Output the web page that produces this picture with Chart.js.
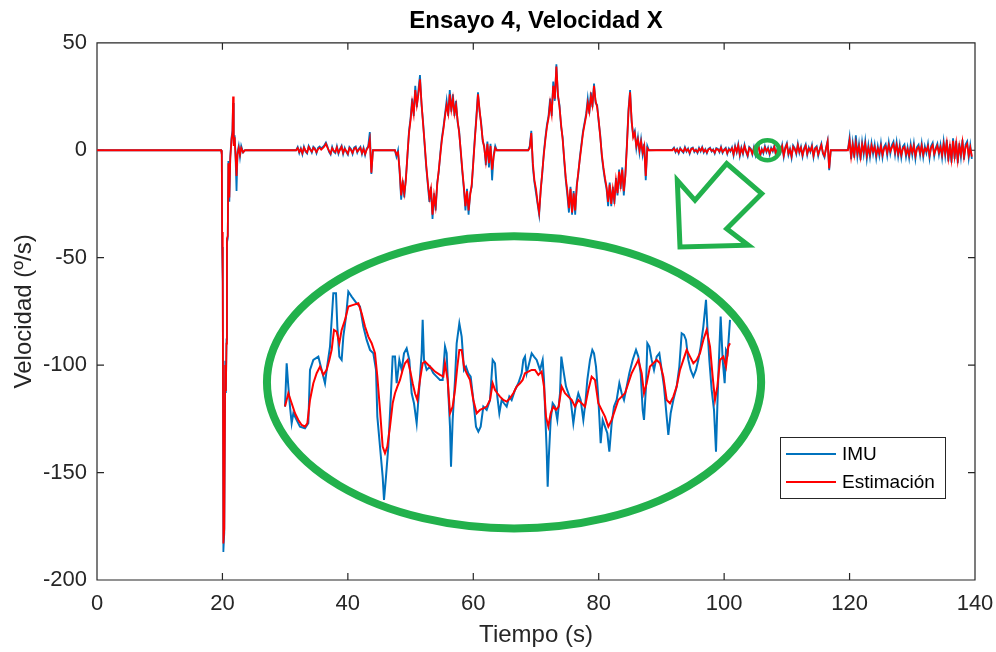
<!DOCTYPE html>
<html>
<head>
<meta charset="utf-8">
<script src="https://cdn.jsdelivr.net/npm/chart.js@4/dist/chart.umd.min.js"></script>
<style>
  html, body { margin: 0; padding: 0; background: #ffffff; }
  canvas { display: block; }
</style>
</head>
<body>
<canvas id="plot" width="996" height="652"></canvas>
<script>
// ---- Axis ticks ----
const xTicks = [0, 20, 40, 60, 80, 100, 120, 140];      // Tiempo (s)
const yTicks = [-200, -150, -100, -50, 0, 50];           // Velocidad (º/s)

// ---- Impact around t = 20 s (irregular sample times, s) ----
const spikeTime = [19.8, 19.9, 19.95, 20.05, 20.15, 20.3, 20.45, 20.55, 20.65, 20.72, 20.85, 20.95, 21.1,
                   21.25, 21.45, 21.6, 21.7, 21.8, 21.95, 22.1, 22.25, 22.4, 22.6, 22.8, 23.0, 23.3, 23.6];
const spikeImu  = [0, -2, -45, -62, -187, -178, -98, -113, -88, -43, -41, -5, -24,
                   -3, 6, 9, 22, 3, 7, -4, -19, -1, 2, -3, 2, -1, 0];
const spikeEst  = [0, -2, -38, -60, -183, -176, -100, -112, -90, -41, -40, -6, -22,
                   -4, 5, 8, 25, 2, 6, -3, -12, -2, 1, -2, 1, -1, 0];

// ---- Active segments, sampled every 0.25 s from each start time ----
const segStart = [31.75, 47.5, 68.75, 91.75, 119.5];
const segStep = 0.25;

const imuSeg1 = [0, 1.5, -1.3, 0.9, -1.9, 1.6, -0.6, -1.5, 2.0, 0.6,
  -1.1, 1.6, 0.9, -1.4, 1.1, 1.7, 0.8, 1.5, 2.3, 3.6,
  1.7, -0.8, -2.0, 1.5, -0.7, -1.3, 1.8, -1.6, 0.7, 2.1,
  -1.7, 1.1, -0.8, -2.1, 1.5, 0.6, -1.7, 1.2, 1.7, -1.1,
  0.7, 1.6, -1.8, 1.1, -2.2, 0.8, 1.9, 8.5, -11.0, 0];
const estSeg1 = [0, 1.0, -0.8, 0.5, -1.4, 1.2, -0.2, -1.0, 1.5, 0.2,
  -0.6, 1.1, 0.4, -0.9, 0.6, 1.2, 0.3, 1.0, 1.8, 3.0,
  1.2, -0.3, -1.5, 1.0, -0.2, -0.8, 1.3, -1.1, 0.2, 1.6,
  -1.2, 0.6, -0.3, -1.6, 1.0, 0.1, -1.2, 0.7, 1.2, -0.6,
  0.2, 1.1, -1.3, 0.6, -1.7, 0.3, 1.4, 5.0, -10.5, 0];

const imuSeg2 = [0, -3, 0, -10, -23, -14, -22, -13, -3, 9,
  15, 24, 16, 30, 20, 28, 35, 21, 13, 2,
  -8, -16, -24, -17, -32, -20, -28, -15, -10, -1,
  6, 11, 17, 23, 16, 28, 18, 26, 16, 23,
  13, 9, -1, -10, -18, -28, -18, -30, -20, -17,
  -5, 6, 16, 27, 18, 13, 4, 2, -7, 4,
  -8, 3, -14, -2, 2, 0];
const estSeg2 = [0, -2, -1, -9, -21, -15, -20, -14, -2, 8,
  14, 22, 17, 28, 21, 26, 33, 22, 12, 3,
  -7, -15, -22, -18, -30, -21, -26, -16, -9, -2,
  5, 10, 16, 21, 17, 26, 19, 24, 17, 21,
  14, 8, 0, -9, -17, -26, -19, -28, -21, -16,
  -6, 5, 15, 26, 19, 12, 5, 1, -5, 3,
  -6, 2, -9, -3, 1, 0];

const imuSeg3 = [0, 2, 9, -8, -15, -20, -25, -30, -18, -11,
  -1, 6, 12, 16, 24, 16, 32, 23, 40, 25,
  21, 11, 6, -5, -14, -21, -29, -17, -30, -19,
  -30, -16, -11, -3, 3, 9, 13, 17, 24, 17,
  27, 20, 31, 22, 21, 13, 7, -3, -9, -14,
  -18, -26, -15, -26, -17, -25, -13, -21, -9, -18,
  -8, -21, -11, 3, 19, 28, 13, 7, 9, 1,
  6, -1, 5, -2, 3, -14, 2, 0];
const estSeg3 = [0, 1, 8, -6, -14, -18, -24, -29, -19, -10,
  -2, 5, 11, 15, 22, 17, 30, 24, 39, 26,
  20, 12, 5, -4, -13, -19, -27, -18, -29, -20,
  -28, -17, -10, -4, 2, 8, 12, 16, 22, 18,
  25, 21, 30, 23, 20, 14, 6, -2, -8, -13,
  -17, -24, -16, -25, -18, -23, -14, -20, -10, -16,
  -9, -19, -12, 2, 18, 27, 14, 6, 8, 2,
  5, 0, 4, -1, 2, -12, 1, 0];

const imuSeg4 = [0.3, 1.2, -0.9, 0.6, -1.4, 1.0, -0.3, -1.1, 1.4, -0.6,
  0.8, -1.6, 0.9, 1.3, -0.8, 0.3, -1.3, 1.1, -0.5, 1.5,
  -1.0, 0.5, -1.4, 0.7, 1.2, -0.6, 0.4, -1.5, 1.0, 0.6,
  -0.9, 1.6, -1.2, 0.3, 1.1, -1.7, 0.8, -0.5, 1.3,
  -2.4, 2.0, -1.0, 2.8, -2.6, 1.2, -1.7, 2.5, -0.8, -2.9, 1.5, 0.7, -2.0,
  1.4, -2.3, 0.9, 2.2, -2.8, 0.6, -1.4, 1.9, -0.8, 1.2, -2.0, 1.1, -0.5, 2.1, -2.5, 0.8, 1.4, -1.0,
  2.5, -3.1, 1.4, 3.3, -2.1, 0.7, -3.5, 2.2, 1.0, -1.8,
  3.0, -1.2, 1.6, -2.9, 0.9, 2.7, -2.2, 1.3, -0.7, 2.4,
  -3.2, 1.1, 1.9, -2.6, 0.6, 3.1, -1.6, -3.3, 1.2, 4.5, -9.3, 0];
const estSeg4 = [0, 0.8, -0.5, 0.3, -1.0, 0.6, 0, -0.7, 1.0, -0.3,
  0.4, -1.2, 0.5, 0.9, -0.4, 0, -0.9, 0.7, -0.2, 1.1,
  -0.6, 0.2, -1.0, 0.4, 0.8, -0.3, 0.1, -1.1, 0.6, 0.3,
  -0.5, 1.2, -0.8, 0, 0.7, -1.3, 0.4, -0.2, 0.9,
  -1.8, 1.5, -0.6, 2.2, -2.0, 0.8, -1.2, 1.9, -0.4, -2.3, 1.0, 0.3, -1.5,
  0.9, -1.7, 0.5, 1.6, -2.1, 0.2, -0.9, 1.3, -0.4, 0.7, -1.4, 0.6, -0.2, 1.5, -1.8, 0.4, 0.9, -0.6,
  1.8, -2.4, 0.9, 2.6, -1.5, 0.3, -2.8, 1.6, 0.5, -1.2,
  2.3, -0.7, 1.1, -2.2, 0.4, 2.0, -1.6, 0.8, -0.3, 1.7,
  -2.5, 0.6, 1.3, -1.9, 0.2, 2.4, -1.1, -2.6, 0.7, 4.0, -8.5, 0];

const imuSeg5 = [0, 0.5, 6.0, -4.2, 3.4, -3.5, 7.0, -2.8, 2.9, -4.6,
  3.8, -1.9, 4.3, -3.9, 2.3, -3.1, 3.3, -1.7, 2.6, -3.6,
  1.8, -2.6, 3.2, -3.3, 1.6, 2.9, -2.4, 3.6, -1.6, 2.4,
  4.0, -2.0, 3.7, -2.8, 2.5, -3.4, 1.7, 2.7, -3.0, 1.4,
  -3.6, 2.8, -2.2, 3.1, -3.9, 1.5, 2.6, -2.4, 3.2, -3.2,
  1.8, -1.3, 2.9, -3.7, 2.0, 3.5, -2.8, 1.2, 3.1, -2.1,
  2.5, -3.4, 4.1, -2.5, 4.8, -5.2, 2.9, -5.8, 5.6, -4.0,
  4.4, -6.0, 3.2, -3.1, 5.0, -4.4, 2.7, 4.1, -3.6, 2.3, -4.0];
const estSeg5 = [0, 0, 4.5, -3.0, 2.5, -2.2, 3.4, -1.5, 1.8, -3.1,
  2.6, -0.8, 3.0, -2.5, 1.2, -1.9, 2.2, -0.6, 1.5, -2.3,
  0.9, -1.4, 2.0, -2.1, 0.7, 1.8, -1.2, 2.4, -0.5, 1.3,
  2.8, -0.9, 2.5, -1.6, 1.4, -2.2, 0.8, 1.6, -1.8, 0.5,
  -2.4, 1.7, -1.1, 2.0, -2.6, 0.6, 1.5, -1.3, 2.1, -2.0,
  0.9, -0.4, 1.8, -2.5, 1.1, 2.4, -1.7, 0.3, 2.0, -1.0,
  1.4, -2.2, 2.9, -1.4, 3.5, -3.6, 1.9, -4.2, 4.4, -2.8,
  3.2, -4.5, 2.1, -1.9, 3.8, -3.0, 1.6, 2.9, -2.4, 1.2, -3.0];

// ---- Magnified detail around t ≈ 105–109 s (time in ms from window start, velocity in º/s) ----
const zoomImuMs = [225, 240, 255, 270, 285, 300, 330, 360, 405, 435, 450, 480, 525, 555, 585, 600, 630, 660, 684, 696,
  714, 735, 750, 774, 795, 825, 870, 900, 930, 960, 990, 1020, 1044, 1056, 1080, 1104, 1116, 1134, 1155, 1176,
  1194, 1215, 1230, 1254, 1275, 1296, 1320, 1344, 1365, 1386, 1410, 1434, 1455, 1464, 1476, 1500, 1530, 1560, 1590, 1620,
  1644, 1665, 1680, 1695, 1710, 1719, 1734, 1755, 1770, 1794, 1815, 1836, 1854, 1875, 1896, 1920, 1944, 1965, 1986, 2010,
  2040, 2070, 2094, 2115, 2136, 2154, 2175, 2196, 2220, 2244, 2265, 2295, 2325, 2355, 2370, 2385, 2400, 2430, 2445, 2466,
  2490, 2520, 2544, 2556, 2568, 2580, 2589, 2598, 2616, 2634, 2655, 2676, 2700, 2712, 2730, 2754, 2775, 2796, 2820, 2844,
  2865, 2886, 2910, 2928, 2946, 2970, 2991, 3006, 3024, 3042, 3054, 3066, 3084, 3105, 3126, 3144, 3165, 3186, 3210, 3234,
  3255, 3276, 3300, 3324, 3354, 3384, 3405, 3426, 3444, 3456, 3474, 3486, 3504, 3525, 3546, 3570, 3594, 3615, 3636, 3660,
  3675, 3696, 3720, 3750, 3774, 3795, 3816, 3834, 3855, 3876, 3900, 3924, 3945, 3966, 3990, 4014, 4026, 4044, 4065, 4086,
  4104, 4116, 4128, 4146, 4164, 4182, 4194, 4209, 4230];
const zoomImu = [-0.35, 0.95, 0.25, -0.35, -0.85, -0.55, -0.75, -0.95, -1.00, -0.85, 0.75, 1.05, 1.15, 0.75, 0.35, 0.75, 1.45, 3.05, 3.05, 2.05,
  1.15, 1.05, 1.75, 2.35, 3.10, 2.95, 2.75, 2.65, 2.05, 1.65, 1.35, 1.25, 0.75, -0.65, -1.55, -2.45, -3.15, -2.45, -1.55, -0.15,
  1.15, 1.15, 0.35, 1.05, 0.75, 1.25, 1.40, 1.05, 0.05, -0.25, -0.85, 0.25, 1.25, 2.25, 1.05, 0.75, 0.85, 0.65, 0.55, 0.45,
  0.45, 1.45, 1.25, 0.05, -0.95, -2.15, -0.75, 0.45, 1.55, 2.15, 1.75, 0.75, 0.85, 0.65, 0.55, -0.15, -0.95, -1.10, -0.95, -0.35,
  -0.45, -0.15, 1.05, 0.95, -0.05, -0.55, -0.15, -0.25, -0.35, -0.05, -0.15, 0.15, 0.35, 0.65, 1.05, 1.15, 0.65, 1.05, 1.25, 1.15,
  1.05, 0.75, 1.05, 0.45, -0.65, -1.65, -2.75, -1.95, -0.75, -0.25, -0.35, -0.75, 0.05, 1.15, 0.75, 0.25, 0.05, -0.15, -0.85, -0.25,
  0.05, -0.15, -0.75, -0.25, 0.45, 1.05, 1.35, 1.25, 0.85, 0.05, -0.65, -1.45, -0.75, -0.95, -1.15, -1.70, -0.85, -0.35, -0.15, 0.35,
  0.05, -0.15, 0.25, 0.65, 1.05, 1.35, 1.15, 0.65, -0.45, -0.75, 0.25, 1.55, 1.45, 1.05, 0.75, 1.15, 1.25, 0.75, 0.25, -0.65,
  -1.20, -0.55, -0.15, 0.25, 0.85, 1.85, 1.80, 1.65, 1.05, 0.75, 0.55, 0.75, 1.05, 1.45, 2.05, 2.85, 2.05, 1.05, 0.15, -0.45,
  -1.70, -0.35, 0.85, 2.35, 1.05, 0.35, 1.35, 1.25, 2.25];

const zoomEstMs = [225, 255, 285, 315, 345, 375, 405, 426, 450, 480, 510, 540, 570, 600, 624, 645, 666, 690, 714, 735,
  765, 795, 840, 885, 915, 945, 975, 1005, 1035, 1056, 1080, 1104, 1125, 1146, 1170, 1194, 1215, 1236, 1260, 1284,
  1305, 1329, 1350, 1374, 1395, 1416, 1440, 1464, 1485, 1515, 1545, 1575, 1620, 1650, 1665, 1689, 1710, 1734, 1755, 1776,
  1794, 1815, 1836, 1860, 1890, 1920, 1950, 1980, 2010, 2040, 2070, 2094, 2115, 2136, 2160, 2190, 2220, 2250, 2280, 2310,
  2340, 2364, 2385, 2415, 2445, 2475, 2505, 2535, 2556, 2574, 2595, 2616, 2640, 2664, 2688, 2715, 2745, 2775, 2805, 2835,
  2865, 2895, 2925, 2955, 2985, 3015, 3045, 3075, 3105, 3135, 3165, 3195, 3225, 3255, 3285, 3315, 3345, 3375, 3405, 3435,
  3456, 3480, 3510, 3540, 3570, 3600, 3630, 3660, 3690, 3720, 3750, 3780, 3810, 3840, 3870, 3900, 3930, 3960, 3990, 4020,
  4050, 4074, 4095, 4116, 4140, 4170, 4194, 4215, 4230];
const zoomEst = [-0.35, 0.05, -0.25, -0.55, -0.75, -0.90, -0.95, -0.85, -0.15, 0.35, 0.65, 0.85, 0.60, 0.75, 1.05, 1.35, 1.95, 1.90, 1.55, 1.95,
  2.25, 2.65, 2.70, 2.75, 2.45, 2.05, 1.75, 1.55, 1.25, 0.55, -0.45, -1.55, -1.75, -1.55, -0.95, -0.25, 0.05, 0.25, 0.45, 0.75,
  0.95, 1.05, 0.75, 0.35, 0.05, -0.15, 0.45, 0.95, 1.00, 0.90, 0.80, 0.70, 0.60, 0.55, 0.95, 0.45, -0.55, -0.35, 0.15, 0.85,
  1.35, 1.35, 0.85, 0.65, 0.45, -0.15, -0.55, -0.45, -0.40, -0.35, -0.15, 0.35, 0.15, 0.05, -0.05, -0.15, -0.20, -0.10, 0.05, 0.25,
  0.35, 0.45, 0.65, 0.70, 0.75, 0.75, 0.60, 0.70, 0.25, -0.65, -0.95, -0.55, -0.35, -0.45, -0.35, 0.25, 0.05, -0.05, -0.15, -0.35,
  -0.15, -0.25, -0.35, 0.15, 0.55, 0.45, -0.25, -0.45, -0.65, -0.95, -0.75, -0.45, -0.15, -0.05, 0.05, 0.35, 0.65, 0.85, 1.05, 0.65,
  0.05, 0.35, 0.85, 0.95, 1.05, 0.95, 0.55, -0.15, -0.25, -0.05, 0.25, 0.75, 1.05, 1.35, 1.15, 0.95, 1.05, 1.25, 1.65, 1.95,
  1.45, 0.55, -0.15, 0.25, 1.05, 1.15, 0.85, 1.45, 1.55];

// ---- Build {x, y} series ----
function buildSeries(spikeVals, segments) {
  const pts = [{ x: 0, y: 0 }];
  spikeTime.forEach((t, i) => pts.push({ x: t, y: spikeVals[i] }));
  segments.forEach((vals, k) => {
    vals.forEach((v, i) => pts.push({ x: +(segStart[k] + i * segStep).toFixed(2), y: v }));
  });
  return pts;
}
function pairs(xs, ys) { return xs.map((x, i) => ({ x: x, y: ys[i] })); }

const imuSeries = buildSeries(spikeImu, [imuSeg1, imuSeg2, imuSeg3, imuSeg4, imuSeg5]);
const estSeries = buildSeries(spikeEst, [estSeg1, estSeg2, estSeg3, estSeg4, estSeg5]);

const BLUE = '#0072BD';
const RED = '#FF0000';
const GREEN = '#22B14C';
const AXIS = '#262626';
const FONT = "'Liberation Sans', Arial, Helvetica, sans-serif";

// Frame of the magnified view inside the plot (hidden scales)
const zoomFrame = { msMin: -1467, msMax: 6435, vMin: -5.55, vMax: 10.56 };

// Highlight marks, in plot units (s, º/s)
const bigEllipse = { cx: 66.5, cy: -108, rx: 39.4, ry: 68 };
const smallEllipse = { cx: 106.9, cy: 0, rx: 1.9, ry: 4.7 };
const arrowShape = [[92.96, -45.0], [92.53, -14.0], [95.35, -23.3], [100.41, -6.2],
                    [105.99, -20.2], [100.41, -36.5], [103.85, -44.2]];

// MATLAB-like box with inward ticks on all four sides
const boxPlugin = {
  id: 'boxTicks',
  beforeDatasetsDraw(chart) {
    const { ctx, chartArea: a, scales } = chart;
    const L = 7;
    ctx.save();
    ctx.strokeStyle = AXIS;
    ctx.lineWidth = 1.2;
    ctx.beginPath();
    ctx.rect(a.left, a.top, a.right - a.left, a.bottom - a.top);
    xTicks.forEach(v => {
      const px = scales.x.getPixelForValue(v);
      ctx.moveTo(px, a.bottom); ctx.lineTo(px, a.bottom - L);
      ctx.moveTo(px, a.top); ctx.lineTo(px, a.top + L);
    });
    yTicks.forEach(v => {
      const py = scales.y.getPixelForValue(v);
      ctx.moveTo(a.left, py); ctx.lineTo(a.left + L, py);
      ctx.moveTo(a.right, py); ctx.lineTo(a.right - L, py);
    });
    ctx.stroke();
    ctx.restore();
  }
};

// Green highlight: small ring, arrow and large ellipse around the magnified view
const highlightPlugin = {
  id: 'highlight',
  afterDatasetsDraw(chart) {
    const { ctx, scales } = chart;
    const X = v => scales.x.getPixelForValue(v);
    const Y = v => scales.y.getPixelForValue(v);
    const ellipse = (e, w) => {
      const cx = X(e.cx), cy = Y(e.cy);
      const rx = X(e.cx + e.rx) - cx, ry = cy - Y(e.cy + e.ry);
      ctx.lineWidth = w;
      ctx.beginPath();
      ctx.ellipse(cx, cy, rx, ry, 0, 0, Math.PI * 2);
      ctx.stroke();
    };
    ctx.save();
    ctx.strokeStyle = GREEN;
    ellipse(bigEllipse, 8);
    ellipse(smallEllipse, 4.5);
    ctx.lineWidth = 5;
    ctx.lineJoin = 'miter';
    ctx.beginPath();
    arrowShape.forEach((p, i) => {
      if (i === 0) ctx.moveTo(X(p[0]), Y(p[1])); else ctx.lineTo(X(p[0]), Y(p[1]));
    });
    ctx.closePath();
    ctx.stroke();
    ctx.restore();
  }
};

// Boxed legend in the lower right of the plot
const legendPlugin = {
  id: 'boxLegend',
  afterDraw(chart) {
    const { ctx, chartArea: a } = chart;
    const items = chart.data.datasets.filter(d => d.inLegend);
    const right = a.right - 30, bottom = a.bottom - 82;
    const w = 165, h = 61;
    const left = right - w, top = bottom - h;
    ctx.save();
    ctx.fillStyle = '#ffffff';
    ctx.fillRect(left, top, w, h);
    ctx.strokeStyle = AXIS;
    ctx.lineWidth = 1;
    ctx.strokeRect(left + 0.5, top + 0.5, w, h);
    ctx.font = '19px ' + FONT;
    ctx.textBaseline = 'middle';
    ctx.textAlign = 'left';
    items.forEach((d, i) => {
      const y = top + 17 + i * 28;
      ctx.strokeStyle = d.borderColor;
      ctx.lineWidth = 1.8;
      ctx.beginPath();
      ctx.moveTo(left + 6, y); ctx.lineTo(left + 56, y);
      ctx.stroke();
      ctx.fillStyle = '#000000';
      ctx.fillText(d.label, left + 62, y + 1);
    });
    ctx.restore();
  }
};

new Chart(document.getElementById('plot'), {
  type: 'line',
  data: {
    datasets: [
      { label: 'IMU', data: imuSeries, borderColor: BLUE, borderWidth: 1.8, order: 2, inLegend: true },
      { label: 'Estimación', data: estSeries, borderColor: RED, borderWidth: 1.8, order: 1, inLegend: true },
      { label: 'IMU detalle', data: pairs(zoomImuMs, zoomImu), borderColor: BLUE, borderWidth: 2,
        xAxisID: 'xz', yAxisID: 'yz', order: 4 },
      { label: 'Estimación detalle', data: pairs(zoomEstMs, zoomEst), borderColor: RED, borderWidth: 2,
        xAxisID: 'xz', yAxisID: 'yz', order: 3 }
    ]
  },
  options: {
    responsive: false,
    animation: false,
    devicePixelRatio: 1,
    parsing: false,
    normalized: true,
    layout: { padding: { left: 0, right: 21, top: 0, bottom: 0 } },
    elements: { point: { radius: 0 }, line: { tension: 0, fill: false } },
    plugins: {
      legend: { display: false },
      tooltip: { enabled: false },
      title: {
        display: true,
        fullSize: false,
        text: 'Ensayo 4, Velocidad X',
        color: '#000000',
        font: { family: FONT, size: 24, weight: 'bold' },
        padding: { top: 7, bottom: 7 }
      }
    },
    scales: {
      x: {
        type: 'linear', min: 0, max: 140,
        grid: { display: false, drawTicks: false },
        border: { display: false },
        afterBuildTicks: s => { s.ticks = xTicks.map(v => ({ value: v })); },
        afterFit: s => { s.height = 72; s.paddingLeft = 0; s.paddingRight = 0; },
        ticks: { color: AXIS, font: { family: FONT, size: 22 }, padding: 11, maxRotation: 0, autoSkip: false },
        title: { display: true, text: 'Tiempo (s)', color: AXIS, font: { family: FONT, size: 24 }, padding: { top: 0, bottom: 2 } }
      },
      y: {
        type: 'linear', min: -200, max: 50,
        grid: { display: false, drawTicks: false },
        border: { display: false },
        afterBuildTicks: s => { s.ticks = yTicks.map(v => ({ value: v })); },
        afterFit: s => { s.width = 97; },
        ticks: { color: AXIS, font: { family: FONT, size: 22 }, padding: 10 },
        title: { display: true, text: 'Velocidad (º/s)', color: AXIS, font: { family: FONT, size: 24 }, padding: { top: 10, bottom: 0 } }
      },
      xz: { type: 'linear', display: false, min: zoomFrame.msMin, max: zoomFrame.msMax },
      yz: { type: 'linear', display: false, min: zoomFrame.vMin, max: zoomFrame.vMax }
    }
  },
  plugins: [boxPlugin, highlightPlugin, legendPlugin]
});
</script>
</body>
</html>
